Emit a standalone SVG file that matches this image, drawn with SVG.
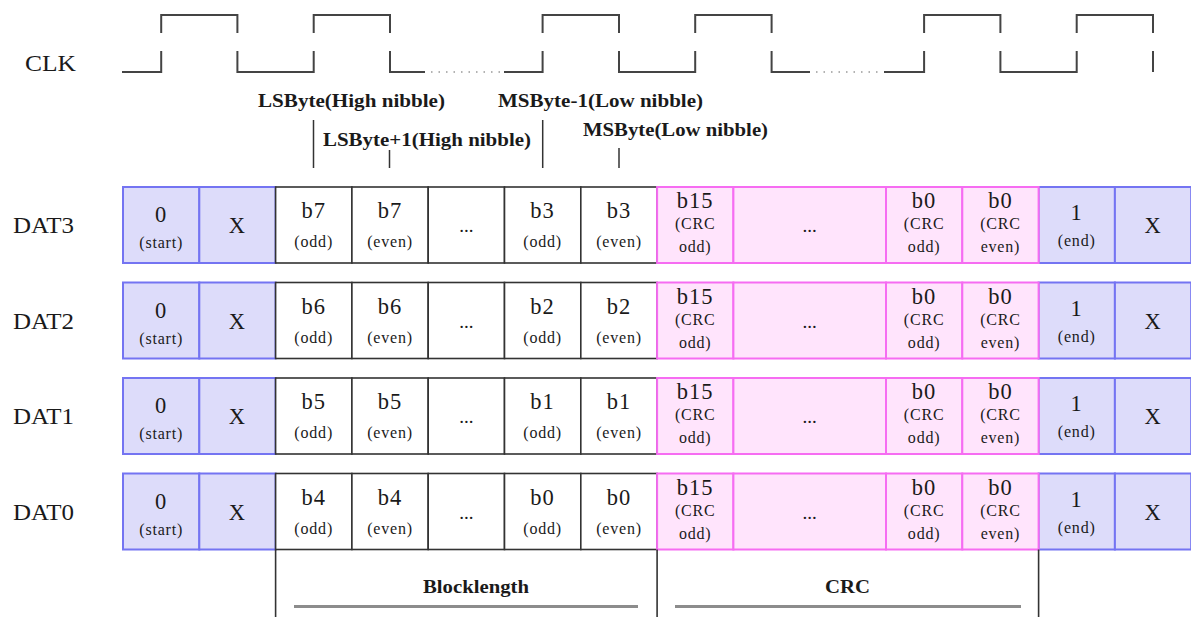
<svg xmlns="http://www.w3.org/2000/svg" width="1191" height="617" viewBox="0 0 1191 617">
  <style>
    text { font-family: "Liberation Serif", "Times New Roman", serif; fill: #1a1a1a; }
    .sig { font-size: 24px; }
    .ann { font-size: 18.5px; font-weight: bold; }
    .big { font-size: 22.5px; text-anchor: middle; letter-spacing: 1px; }
    .sm { font-size: 16px; text-anchor: middle; letter-spacing: 0.8px; }
    .dots { font-size: 19px; text-anchor: middle; }
    .clk { fill: none; stroke: #444; stroke-width: 2; }
    .dotted { fill: none; stroke: #999; stroke-width: 1.5; stroke-dasharray: 1.5 6; }
    .mark { stroke: #333; stroke-width: 1.5; }
    .blue { fill: #dddcfa; stroke: #7474f2; stroke-width: 2; }
    .white { fill: #ffffff; stroke: #333; stroke-width: 1.6; }
    .pink { fill: #ffe4fc; stroke: #f66cf2; stroke-width: 2; }
    .frame { stroke: #333; stroke-width: 1.6; }
    .bar { stroke: #8c8c8c; stroke-width: 3; }
  </style>

  <!-- clock waveform -->
  <g id="clock">
    <text class="sig" x="25" y="71" textLength="51" lengthAdjust="spacingAndGlyphs">CLK</text>
    <path class="clk" d="M122,72 H161.2 V51 M161.2,33 V15 H237.4 V33 M237.4,51 V72 H313.7 V51 M313.7,33 V15 H390 V33 M390,51 V72 H425"/>
    <path class="dotted" d="M431,72 H501"/>
    <path class="clk" d="M504,72 H542.6 V51 M542.6,33 V15 H619 V33 M619,51 V72 H695.2 V51 M695.2,33 V15 H771.6 V33 M771.6,51 V72 H810"/>
    <path class="dotted" d="M816,72 H882"/>
    <path class="clk" d="M884,72 H924.1 V51 M924.1,33 V15 H1000.4 V33 M1000.4,51 V72 H1076.7 V51 M1076.7,33 V15 H1153 V33 M1153,51 V72"/>
  </g>

  <!-- byte / nibble annotations -->
  <g id="annotations">
    <text class="ann" x="258" y="107" textLength="187" lengthAdjust="spacingAndGlyphs">LSByte(High nibble)</text>
    <text class="ann" x="323" y="146" textLength="208" lengthAdjust="spacingAndGlyphs">LSByte+1(High nibble)</text>
    <text class="ann" x="498" y="107" textLength="205" lengthAdjust="spacingAndGlyphs">MSByte-1(Low nibble)</text>
    <text class="ann" x="583" y="136" textLength="185" lengthAdjust="spacingAndGlyphs">MSByte(Low nibble)</text>
    <line class="mark" x1="313.5" y1="120" x2="313.5" y2="168"/>
    <line class="mark" x1="389.5" y1="150" x2="389.5" y2="168"/>
    <line class="mark" x1="542.7" y1="120" x2="542.7" y2="168"/>
    <line class="mark" x1="619" y1="148" x2="619" y2="168"/>
  </g>

  <!-- data lines -->
  <g id="dat3" transform="translate(0,187)">
    <text class="sig" x="13" y="46" textLength="61" lengthAdjust="spacingAndGlyphs">DAT3</text>
    <g id="dat3-start"><rect class="blue" x="123" y="0" width="76.3" height="76"/><text class="big" x="161.2" y="35">0</text><text class="sm" x="161.2" y="61">(start)</text></g>
    <g id="dat3-x1"><rect class="blue" x="199.3" y="0" width="76.3" height="76"/><text class="big" x="237.4" y="46">X</text></g>
    <g id="dat3-end"><rect class="blue" x="1038.6" y="0" width="76.3" height="76"/><text class="big" x="1076.7" y="33">1</text><text class="sm" x="1076.7" y="59">(end)</text></g>
    <g id="dat3-x2"><rect class="blue" x="1114.9" y="0" width="76.3" height="76"/><text class="big" x="1153" y="46">X</text></g>
    <g id="dat3-b7o"><rect class="white" x="275.6" y="0" width="76.3" height="76"/><text class="big" x="313.7" y="31">b7</text><text class="sm" x="313.7" y="60">(odd)</text></g>
    <g id="dat3-b7e"><rect class="white" x="351.9" y="0" width="76.3" height="76"/><text class="big" x="390" y="31">b7</text><text class="sm" x="390" y="60">(even)</text></g>
    <g id="dat3-gap"><rect class="white" x="428.2" y="0" width="76.3" height="76"/><text class="dots" x="466.3" y="45">...</text></g>
    <g id="dat3-b3o"><rect class="white" x="504.5" y="0" width="76.3" height="76"/><text class="big" x="542.6" y="31">b3</text><text class="sm" x="542.6" y="60">(odd)</text></g>
    <g id="dat3-b3e"><rect class="white" x="580.8" y="0" width="76.3" height="76"/><text class="big" x="619" y="31">b3</text><text class="sm" x="619" y="60">(even)</text></g>
    <g id="dat3-c15"><rect class="pink" x="657.1" y="0" width="76.3" height="76"/><text class="big" x="695.2" y="21">b15</text><text class="sm" x="695.2" y="42">(CRC</text><text class="sm" x="695.2" y="65">odd)</text></g>
    <g id="dat3-cgap"><rect class="pink" x="733.4" y="0" width="152.6" height="76"/><text class="dots" x="809.7" y="45">...</text></g>
    <g id="dat3-c0o"><rect class="pink" x="886" y="0" width="76.3" height="76"/><text class="big" x="924.1" y="21">b0</text><text class="sm" x="924.1" y="42">(CRC</text><text class="sm" x="924.1" y="65">odd)</text></g>
    <g id="dat3-c0e"><rect class="pink" x="962.3" y="0" width="76.3" height="76"/><text class="big" x="1000.4" y="21">b0</text><text class="sm" x="1000.4" y="42">(CRC</text><text class="sm" x="1000.4" y="65">even)</text></g>
  </g>

  <g id="dat2" transform="translate(0,282.5)">
    <text class="sig" x="13" y="46" textLength="61" lengthAdjust="spacingAndGlyphs">DAT2</text>
    <g id="dat2-start"><rect class="blue" x="123" y="0" width="76.3" height="76"/><text class="big" x="161.2" y="35">0</text><text class="sm" x="161.2" y="61">(start)</text></g>
    <g id="dat2-x1"><rect class="blue" x="199.3" y="0" width="76.3" height="76"/><text class="big" x="237.4" y="46">X</text></g>
    <g id="dat2-end"><rect class="blue" x="1038.6" y="0" width="76.3" height="76"/><text class="big" x="1076.7" y="33">1</text><text class="sm" x="1076.7" y="59">(end)</text></g>
    <g id="dat2-x2"><rect class="blue" x="1114.9" y="0" width="76.3" height="76"/><text class="big" x="1153" y="46">X</text></g>
    <g id="dat2-b6o"><rect class="white" x="275.6" y="0" width="76.3" height="76"/><text class="big" x="313.7" y="31">b6</text><text class="sm" x="313.7" y="60">(odd)</text></g>
    <g id="dat2-b6e"><rect class="white" x="351.9" y="0" width="76.3" height="76"/><text class="big" x="390" y="31">b6</text><text class="sm" x="390" y="60">(even)</text></g>
    <g id="dat2-gap"><rect class="white" x="428.2" y="0" width="76.3" height="76"/><text class="dots" x="466.3" y="45">...</text></g>
    <g id="dat2-b2o"><rect class="white" x="504.5" y="0" width="76.3" height="76"/><text class="big" x="542.6" y="31">b2</text><text class="sm" x="542.6" y="60">(odd)</text></g>
    <g id="dat2-b2e"><rect class="white" x="580.8" y="0" width="76.3" height="76"/><text class="big" x="619" y="31">b2</text><text class="sm" x="619" y="60">(even)</text></g>
    <g id="dat2-c15"><rect class="pink" x="657.1" y="0" width="76.3" height="76"/><text class="big" x="695.2" y="21">b15</text><text class="sm" x="695.2" y="42">(CRC</text><text class="sm" x="695.2" y="65">odd)</text></g>
    <g id="dat2-cgap"><rect class="pink" x="733.4" y="0" width="152.6" height="76"/><text class="dots" x="809.7" y="45">...</text></g>
    <g id="dat2-c0o"><rect class="pink" x="886" y="0" width="76.3" height="76"/><text class="big" x="924.1" y="21">b0</text><text class="sm" x="924.1" y="42">(CRC</text><text class="sm" x="924.1" y="65">odd)</text></g>
    <g id="dat2-c0e"><rect class="pink" x="962.3" y="0" width="76.3" height="76"/><text class="big" x="1000.4" y="21">b0</text><text class="sm" x="1000.4" y="42">(CRC</text><text class="sm" x="1000.4" y="65">even)</text></g>
  </g>

  <g id="dat1" transform="translate(0,378)">
    <text class="sig" x="13" y="46" textLength="61" lengthAdjust="spacingAndGlyphs">DAT1</text>
    <g id="dat1-start"><rect class="blue" x="123" y="0" width="76.3" height="76"/><text class="big" x="161.2" y="35">0</text><text class="sm" x="161.2" y="61">(start)</text></g>
    <g id="dat1-x1"><rect class="blue" x="199.3" y="0" width="76.3" height="76"/><text class="big" x="237.4" y="46">X</text></g>
    <g id="dat1-end"><rect class="blue" x="1038.6" y="0" width="76.3" height="76"/><text class="big" x="1076.7" y="33">1</text><text class="sm" x="1076.7" y="59">(end)</text></g>
    <g id="dat1-x2"><rect class="blue" x="1114.9" y="0" width="76.3" height="76"/><text class="big" x="1153" y="46">X</text></g>
    <g id="dat1-b5o"><rect class="white" x="275.6" y="0" width="76.3" height="76"/><text class="big" x="313.7" y="31">b5</text><text class="sm" x="313.7" y="60">(odd)</text></g>
    <g id="dat1-b5e"><rect class="white" x="351.9" y="0" width="76.3" height="76"/><text class="big" x="390" y="31">b5</text><text class="sm" x="390" y="60">(even)</text></g>
    <g id="dat1-gap"><rect class="white" x="428.2" y="0" width="76.3" height="76"/><text class="dots" x="466.3" y="45">...</text></g>
    <g id="dat1-b1o"><rect class="white" x="504.5" y="0" width="76.3" height="76"/><text class="big" x="542.6" y="31">b1</text><text class="sm" x="542.6" y="60">(odd)</text></g>
    <g id="dat1-b1e"><rect class="white" x="580.8" y="0" width="76.3" height="76"/><text class="big" x="619" y="31">b1</text><text class="sm" x="619" y="60">(even)</text></g>
    <g id="dat1-c15"><rect class="pink" x="657.1" y="0" width="76.3" height="76"/><text class="big" x="695.2" y="21">b15</text><text class="sm" x="695.2" y="42">(CRC</text><text class="sm" x="695.2" y="65">odd)</text></g>
    <g id="dat1-cgap"><rect class="pink" x="733.4" y="0" width="152.6" height="76"/><text class="dots" x="809.7" y="45">...</text></g>
    <g id="dat1-c0o"><rect class="pink" x="886" y="0" width="76.3" height="76"/><text class="big" x="924.1" y="21">b0</text><text class="sm" x="924.1" y="42">(CRC</text><text class="sm" x="924.1" y="65">odd)</text></g>
    <g id="dat1-c0e"><rect class="pink" x="962.3" y="0" width="76.3" height="76"/><text class="big" x="1000.4" y="21">b0</text><text class="sm" x="1000.4" y="42">(CRC</text><text class="sm" x="1000.4" y="65">even)</text></g>
  </g>

  <g id="dat0" transform="translate(0,473.5)">
    <text class="sig" x="13" y="46" textLength="61" lengthAdjust="spacingAndGlyphs">DAT0</text>
    <g id="dat0-start"><rect class="blue" x="123" y="0" width="76.3" height="76"/><text class="big" x="161.2" y="35">0</text><text class="sm" x="161.2" y="61">(start)</text></g>
    <g id="dat0-x1"><rect class="blue" x="199.3" y="0" width="76.3" height="76"/><text class="big" x="237.4" y="46">X</text></g>
    <g id="dat0-end"><rect class="blue" x="1038.6" y="0" width="76.3" height="76"/><text class="big" x="1076.7" y="33">1</text><text class="sm" x="1076.7" y="59">(end)</text></g>
    <g id="dat0-x2"><rect class="blue" x="1114.9" y="0" width="76.3" height="76"/><text class="big" x="1153" y="46">X</text></g>
    <g id="dat0-b4o"><rect class="white" x="275.6" y="0" width="76.3" height="76"/><text class="big" x="313.7" y="31">b4</text><text class="sm" x="313.7" y="60">(odd)</text></g>
    <g id="dat0-b4e"><rect class="white" x="351.9" y="0" width="76.3" height="76"/><text class="big" x="390" y="31">b4</text><text class="sm" x="390" y="60">(even)</text></g>
    <g id="dat0-gap"><rect class="white" x="428.2" y="0" width="76.3" height="76"/><text class="dots" x="466.3" y="45">...</text></g>
    <g id="dat0-b0o"><rect class="white" x="504.5" y="0" width="76.3" height="76"/><text class="big" x="542.6" y="31">b0</text><text class="sm" x="542.6" y="60">(odd)</text></g>
    <g id="dat0-b0e"><rect class="white" x="580.8" y="0" width="76.3" height="76"/><text class="big" x="619" y="31">b0</text><text class="sm" x="619" y="60">(even)</text></g>
    <g id="dat0-c15"><rect class="pink" x="657.1" y="0" width="76.3" height="76"/><text class="big" x="695.2" y="21">b15</text><text class="sm" x="695.2" y="42">(CRC</text><text class="sm" x="695.2" y="65">odd)</text></g>
    <g id="dat0-cgap"><rect class="pink" x="733.4" y="0" width="152.6" height="76"/><text class="dots" x="809.7" y="45">...</text></g>
    <g id="dat0-c0o"><rect class="pink" x="886" y="0" width="76.3" height="76"/><text class="big" x="924.1" y="21">b0</text><text class="sm" x="924.1" y="42">(CRC</text><text class="sm" x="924.1" y="65">odd)</text></g>
    <g id="dat0-c0e"><rect class="pink" x="962.3" y="0" width="76.3" height="76"/><text class="big" x="1000.4" y="21">b0</text><text class="sm" x="1000.4" y="42">(CRC</text><text class="sm" x="1000.4" y="65">even)</text></g>
  </g>

  <!-- field brackets below the data lines -->
  <g id="fields">
    <line class="frame" x1="275.6" y1="549.5" x2="275.6" y2="617"/>
    <line class="frame" x1="657.1" y1="549.5" x2="657.1" y2="617"/>
    <line class="frame" x1="1038.6" y1="549.5" x2="1038.6" y2="617"/>
    <text class="ann" x="423" y="593" textLength="106" lengthAdjust="spacingAndGlyphs">Blocklength</text>
    <line class="bar" x1="294" y1="606.5" x2="638" y2="606.5"/>
    <text class="ann" x="825" y="593" textLength="45" lengthAdjust="spacingAndGlyphs">CRC</text>
    <line class="bar" x1="675" y1="606.5" x2="1021" y2="606.5"/>
  </g>
</svg>
